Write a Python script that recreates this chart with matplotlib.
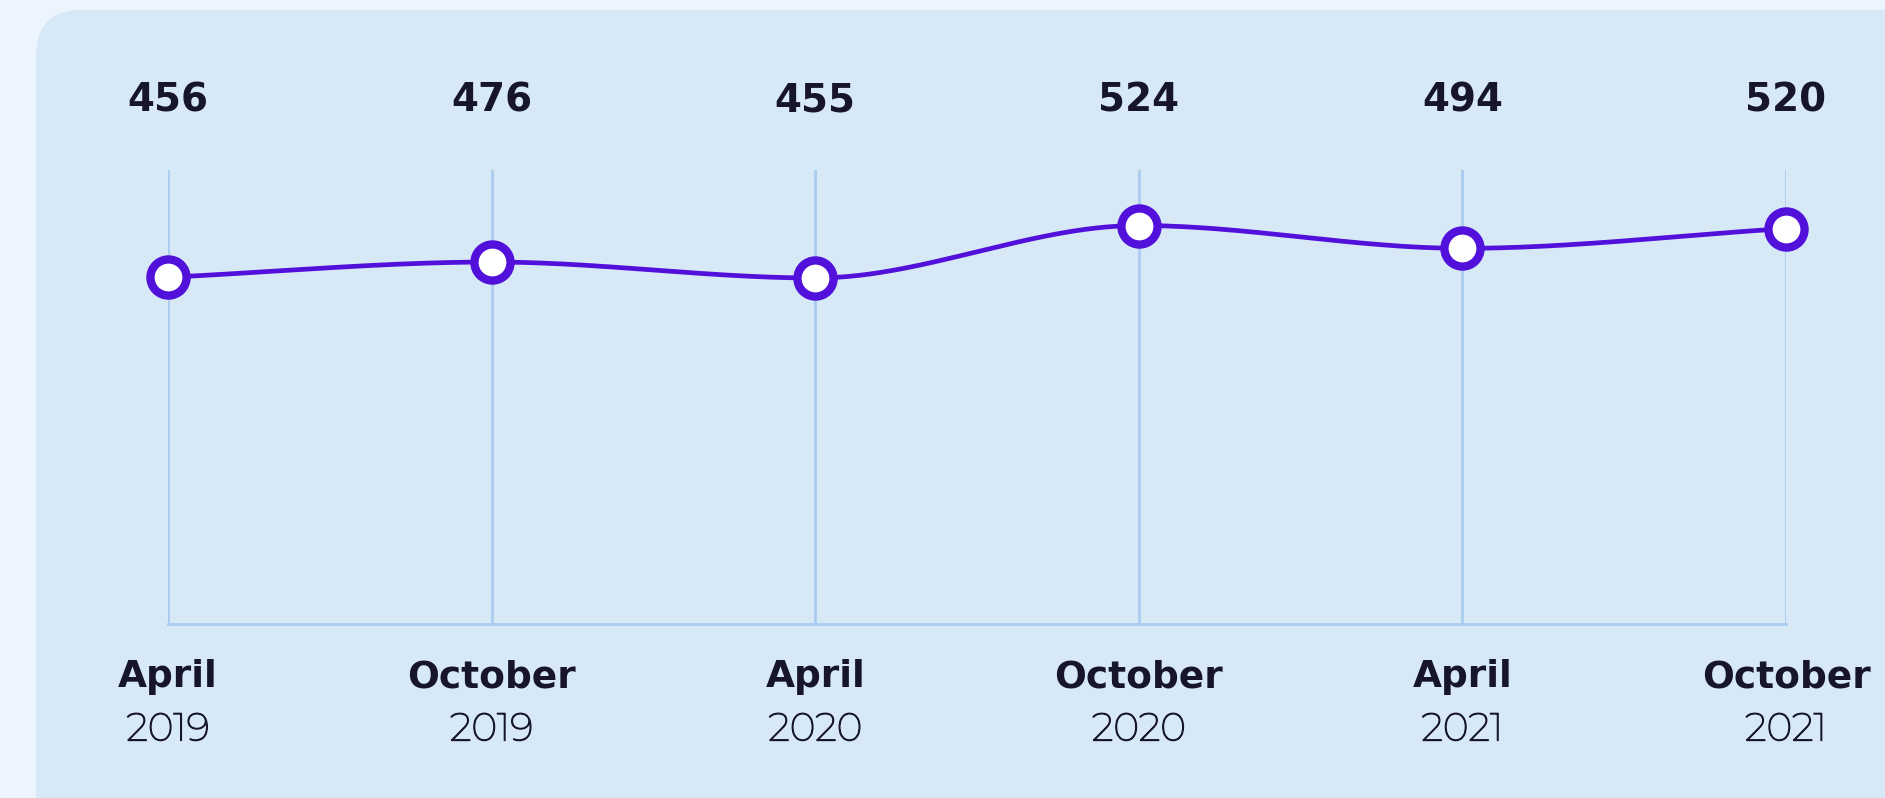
import numpy as np
import matplotlib.pyplot as plt
from matplotlib.patches import FancyBboxPatch
import matplotlib.transforms as mtransforms
import matplotlib.patheffects as pe

months = ['April', 'October', 'April', 'October', 'April', 'October']
years = ['2019', '2019', '2020', '2020', '2021', '2021']
values = [456, 476, 455, 524, 494, 520]

line_c = '#5210DB'
grid_c = '#A9CDF0'
text_c = '#16152B'
panel_c = '#D7E8F7'
page_c = '#ECF4FD'
font_b = ['DejaVu Sans']
font_r = ['Montserrat', 'DejaVu Sans']

# the installed Montserrat only comes out thin, so thicken it a little
regular = [pe.withStroke(linewidth=0.9, foreground=text_c)]


def monotone(x, y, n=60):
    # monotone cubic (Fritsch-Carlson) just for drawing the smooth line
    x = np.asarray(x, float)
    y = np.asarray(y, float)
    h = np.diff(x)
    d = np.diff(y) / h
    m = np.zeros_like(y)
    m[0], m[-1] = d[0], d[-1]
    for k in range(1, len(y) - 1):
        if d[k - 1] * d[k] <= 0:
            m[k] = 0
        else:
            w1 = 2 * h[k] + h[k - 1]
            w2 = h[k] + 2 * h[k - 1]
            m[k] = (w1 + w2) / (w1 / d[k - 1] + w2 / d[k])
    xs, ys = [], []
    for k in range(len(h)):
        t = np.linspace(0, 1, n)
        h00 = 2 * t**3 - 3 * t**2 + 1
        h10 = t**3 - 2 * t**2 + t
        h01 = -2 * t**3 + 3 * t**2
        h11 = t**3 - t**2
        xs.append(x[k] + t * h[k])
        ys.append(h00 * y[k] + h10 * h[k] * m[k] + h01 * y[k + 1] + h11 * h[k] * m[k + 1])
    return np.concatenate(xs), np.concatenate(ys)


fig = plt.figure(figsize=(18.85, 7.98), dpi=100)
fig.patch.set_facecolor(page_c)

# rounded panel behind the chart
bg = fig.add_axes([0, 0, 1, 1])
bg.set_xlim(0, 1885)
bg.set_ylim(798, 0)
bg.axis('off')
bg.add_patch(FancyBboxPatch((36, 10), 1950, 840,
                            boxstyle='round,pad=0,rounding_size=46',
                            fc=panel_c, ec='none'))

ax = fig.add_axes([168 / 1885, 1 - 624 / 798, (1786 - 168) / 1885, (624 - 170) / 798])
ax.set_facecolor('none')
x = np.arange(len(values))
ax.set_xlim(0, len(values) - 1)
ax.set_ylim(0, 597)

for xi in x:
    ax.axvline(xi, color=grid_c, lw=2, zorder=1)
for s in ['top', 'left', 'right']:
    ax.spines[s].set_visible(False)
ax.spines['bottom'].set_color(grid_c)
ax.spines['bottom'].set_linewidth(2)
ax.set_xticks([])
ax.set_yticks([])

sx, sy = monotone(x, values)
ax.plot(sx, sy, color=line_c, lw=3.4, zorder=3, clip_on=False)
ax.plot(x, values, 'o', ms=26, mfc='white', mec=line_c, mew=6, zorder=4, clip_on=False)

tr = mtransforms.blended_transform_factory(ax.transData, ax.transAxes)
for i in range(len(values)):
    ax.text(i, 1.154, str(values[i]), transform=tr, ha='center', va='center',
            fontsize=28, fontweight='bold', color=text_c, family=font_b)
    ax.text(i, -0.117, months[i], transform=tr, ha='center', va='center',
            fontsize=27, fontweight='bold', color=text_c, family=font_b)
    ax.text(i, -0.233, years[i], transform=tr, ha='center', va='center',
            fontsize=28, color=text_c, family=font_r, path_effects=regular)

fig.savefig('out.png', dpi=100, facecolor=page_c)
